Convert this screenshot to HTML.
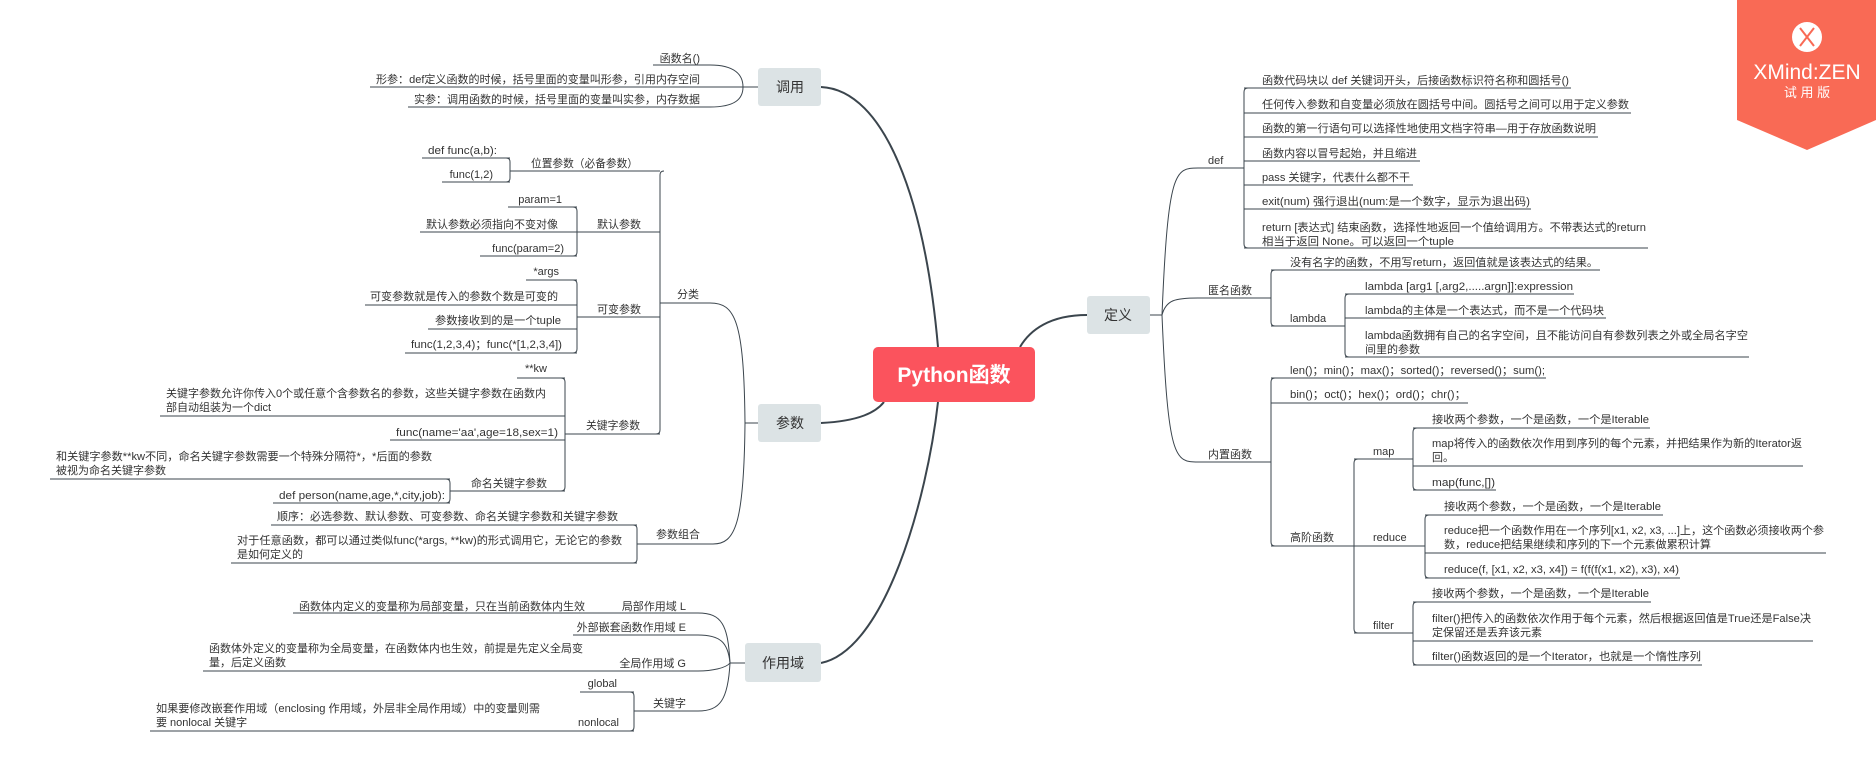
<!DOCTYPE html>
<html><head><meta charset="utf-8"><style>
html,body{margin:0;padding:0;background:#fff;}
svg{display:block;}
text{font-family:"Liberation Sans","Noto Sans CJK SC",sans-serif;fill:#333;font-size:11px;}
.m{font-size:14px;fill:#333;}
</style></head><body>
<svg width="1876" height="782" viewBox="0 0 1876 782" xmlns="http://www.w3.org/2000/svg">
<g fill="none" stroke="#3b454d" stroke-width="2">
<path d="M821,87 C885,90 925,200 938,347"/>
<path d="M821,423 C860,421 876,412 884,402"/>
<path d="M821,663 C885,650 927,500 938,402"/>
<path d="M1087,315 C1050,315 1030,330 1020,347"/>
</g>
<rect x="873" y="347" width="162" height="55" rx="5" fill="#fb535d"/>
<text x="954" y="382" text-anchor="middle" style="font-size:21px;font-weight:bold;fill:#fff">Python函数</text>
<g fill="#dce3e5">
<rect x="1087" y="296" width="63" height="38" rx="3"/>
<rect x="758" y="68" width="63" height="38" rx="3"/>
<rect x="758" y="404" width="63" height="38" rx="3"/>
<rect x="745" y="643" width="76" height="39" rx="3"/>
</g>
<text class="m" x="1118" y="320" text-anchor="middle">定义</text>
<text class="m" x="790" y="92" text-anchor="middle">调用</text>
<text class="m" x="790" y="428" text-anchor="middle">参数</text>
<text class="m" x="783" y="668" text-anchor="middle">作用域</text>

<g fill="none" stroke="#3b454d" stroke-width="1">
<!-- 定义 subtree -->
<path d="M1150,315 L1162,315"/>
<path d="M1162,315 C1168,170 1175,168 1198,168 L1244,168"/>
<path d="M1162,315 C1166,300 1175,298 1198,298 L1271,298"/>
<path d="M1162,315 C1168,460 1175,462 1198,462 L1271,462"/>
<path d="M1248,88 Q1244,88 1244,92 L1244,244 Q1244,248 1248,248"/>
<path d="M1244,88 L1571,88 M1244,113 L1631,113 M1244,137 L1598,137 M1244,161 L1420,161 M1244,185 L1413,185 M1244,209 L1531,209 M1244,248 L1648,248"/>
<path d="M1275,270 Q1271,270 1271,274 L1271,322 Q1271,326 1275,326"/>
<path d="M1271,270 L1600,270 M1271,326 L1345,326"/>
<path d="M1349,294 Q1345,294 1345,298 L1345,353 Q1345,357 1349,357"/>
<path d="M1345,294 L1574,294 M1345,318 L1606,318 M1345,357 L1749,357"/>
<path d="M1275,378 Q1271,378 1271,382 L1271,542 Q1271,546 1275,546"/>
<path d="M1271,378 L1546,378 M1271,403 L1468,403 M1271,546 L1354,546"/>
<path d="M1358,459 Q1354,459 1354,463 L1354,629 Q1354,633 1358,633"/>
<path d="M1354,459 L1413,459 M1354,546 L1425,546 M1354,633 L1413,633"/>
<path d="M1417,428 Q1413,428 1413,432 L1413,486 Q1413,490 1417,490"/>
<path d="M1413,428 L1650,428 M1413,466 L1803,466 M1413,490 L1496,490"/>
<path d="M1429,515 Q1425,515 1425,519 L1425,574 Q1425,578 1429,578"/>
<path d="M1425,515 L1663,515 M1425,553 L1826,553 M1425,578 L1680,578"/>
<path d="M1417,602 Q1413,602 1413,606 L1413,661 Q1413,665 1417,665"/>
<path d="M1413,602 L1651,602 M1413,641 L1813,641 M1413,665 L1702,665"/>
<!-- 调用 -->
<path d="M758,87 L743,87"/>
<path d="M653,65 L710,65 C735,65 743,75 743,87 C743,99 735,107 710,107 L408,107"/>
<path d="M370,87 L743,87"/>
<!-- 参数 -->
<path d="M758,423 L745,423"/>
<path d="M745,423 C744,320 735,303 710,303 L660,303"/>
<path d="M745,423 C744,525 735,544 713,544 L637,544"/>
<path d="M664,171 Q660,171 660,175 L660,430 Q660,434 656,434"/>
<path d="M660,171 L510,171 M660,232 L420,232 M660,317 L577,317 M660,434 L565,434"/>
<path d="M506,158 Q510,158 510,162 L510,178 Q510,182 506,182"/>
<path d="M510,158 L422,158 M510,182 L442,182"/>
<path d="M573,207 Q577,207 577,211 L577,252 Q577,256 573,256"/>
<path d="M577,207 L508,207 M577,256 L480,256"/>
<path d="M573,280 Q577,280 577,284 L577,349 Q577,353 573,353"/>
<path d="M577,280 L526,280 M577,305 L365,305 M577,329 L428,329 M577,353 L405,353"/>
<path d="M561,378 Q565,378 565,382 L565,487 Q565,491 561,491"/>
<path d="M565,378 L517,378 M565,416 L160,416 M565,440 L390,440 M565,491 L450,491"/>
<path d="M446,479 Q450,479 450,483 L450,499 Q450,503 446,503"/>
<path d="M450,479 L50,479 M450,503 L273,503"/>
<path d="M633,525 Q637,525 637,529 L637,559 Q637,563 633,563"/>
<path d="M637,525 L271,525 M637,563 L231,563"/>
<!-- 作用域 -->
<path d="M745,663 L730,663"/>
<path d="M730,663 C728,625 722,613 698,613 L293,613"/>
<path d="M730,663 C728,642 720,635 698,635 L573,635"/>
<path d="M730,663 C726,668 712,671 698,671 L203,671"/>
<path d="M730,663 C728,700 720,711 698,711 L634,711"/>
<path d="M630,692 Q634,692 634,696 L634,727 Q634,731 630,731"/>
<path d="M634,692 L580,692 M634,731 L150,731"/>
</g>

<!-- 定义 texts -->
<text x="1208" y="164">def</text>
<text x="1262" y="84" textLength="307" lengthAdjust="spacingAndGlyphs">函数代码块以 def 关键词开头，后接函数标识符名称和圆括号()</text>
<text x="1262" y="108" textLength="367" lengthAdjust="spacingAndGlyphs">任何传入参数和自变量必须放在圆括号中间。圆括号之间可以用于定义参数</text>
<text x="1262" y="132" textLength="334" lengthAdjust="spacingAndGlyphs">函数的第一行语句可以选择性地使用文档字符串—用于存放函数说明</text>
<text x="1262" y="157" textLength="155" lengthAdjust="spacingAndGlyphs">函数内容以冒号起始，并且缩进</text>
<text x="1262" y="181" textLength="148" lengthAdjust="spacingAndGlyphs">pass 关键字，代表什么都不干</text>
<text x="1262" y="205" textLength="268" lengthAdjust="spacingAndGlyphs">exit(num)   强行退出(num:是一个数字，显示为退出码)</text>
<text x="1262" y="231" textLength="384" lengthAdjust="spacingAndGlyphs">return [表达式] 结束函数，选择性地返回一个值给调用方。不带表达式的return</text>
<text x="1262" y="245" textLength="192" lengthAdjust="spacingAndGlyphs">相当于返回 None。可以返回一个tuple</text>
<text x="1208" y="294">匿名函数</text>
<text x="1290" y="266" textLength="308" lengthAdjust="spacingAndGlyphs">没有名字的函数，不用写return，返回值就是该表达式的结果。</text>
<text x="1290" y="322">lambda</text>
<text x="1365" y="290" textLength="208" lengthAdjust="spacingAndGlyphs">lambda [arg1 [,arg2,.....argn]]:expression</text>
<text x="1365" y="314" textLength="239" lengthAdjust="spacingAndGlyphs">lambda的主体是一个表达式，而不是一个代码块</text>
<text x="1365" y="339" textLength="383" lengthAdjust="spacingAndGlyphs">lambda函数拥有自己的名字空间，且不能访问自有参数列表之外或全局名字空</text>
<text x="1365" y="353">间里的参数</text>
<text x="1208" y="458">内置函数</text>
<text x="1290" y="374" textLength="255" lengthAdjust="spacingAndGlyphs">len()；min()；max()；sorted()；reversed()；sum();</text>
<text x="1290" y="398" textLength="176" lengthAdjust="spacingAndGlyphs">bin()；oct()；hex()；ord()；chr()；</text>
<text x="1290" y="541">高阶函数</text>
<text x="1373" y="455">map</text>
<text x="1373" y="541">reduce</text>
<text x="1373" y="629">filter</text>
<text x="1432" y="423" textLength="217" lengthAdjust="spacingAndGlyphs">接收两个参数，一个是函数，一个是Iterable</text>
<text x="1432" y="447" textLength="370" lengthAdjust="spacingAndGlyphs">map将传入的函数依次作用到序列的每个元素，并把结果作为新的Iterator返</text>
<text x="1432" y="461">回。</text>
<text x="1432" y="486" textLength="63" lengthAdjust="spacingAndGlyphs">map(func,[])</text>
<text x="1444" y="510" textLength="217" lengthAdjust="spacingAndGlyphs">接收两个参数，一个是函数，一个是Iterable</text>
<text x="1444" y="534" textLength="380" lengthAdjust="spacingAndGlyphs">reduce把一个函数作用在一个序列[x1, x2, x3, ...]上，这个函数必须接收两个参</text>
<text x="1444" y="548" textLength="267" lengthAdjust="spacingAndGlyphs">数，reduce把结果继续和序列的下一个元素做累积计算</text>
<text x="1444" y="573" textLength="235" lengthAdjust="spacingAndGlyphs">reduce(f, [x1, x2, x3, x4]) = f(f(f(x1, x2), x3), x4)</text>
<text x="1432" y="597" textLength="217" lengthAdjust="spacingAndGlyphs">接收两个参数，一个是函数，一个是Iterable</text>
<text x="1432" y="622" textLength="379" lengthAdjust="spacingAndGlyphs">filter()把传入的函数依次作用于每个元素，然后根据返回值是True还是False决</text>
<text x="1432" y="636">定保留还是丢弃该元素</text>
<text x="1432" y="660" textLength="269" lengthAdjust="spacingAndGlyphs">filter()函数返回的是一个Iterator，也就是一个惰性序列</text>

<!-- 调用 texts -->
<text x="700" y="62" text-anchor="end">函数名()</text>
<text x="700" y="83" text-anchor="end" textLength="324" lengthAdjust="spacingAndGlyphs">形参：def定义函数的时候，括号里面的变量叫形参，引用内存空间</text>
<text x="700" y="103" text-anchor="end" textLength="286" lengthAdjust="spacingAndGlyphs">实参：调用函数的时候，括号里面的变量叫实参，内存数据</text>
<!-- 参数 texts -->
<text x="677" y="298">分类</text>
<text x="531" y="167" textLength="107" lengthAdjust="spacingAndGlyphs">位置参数（必备参数）</text>
<text x="497" y="154" text-anchor="end" textLength="69" lengthAdjust="spacingAndGlyphs">def func(a,b):</text>
<text x="493" y="178" text-anchor="end">func(1,2)</text>
<text x="597" y="228">默认参数</text>
<text x="562" y="203" text-anchor="end">param=1</text>
<text x="558" y="228" text-anchor="end" textLength="132" lengthAdjust="spacingAndGlyphs">默认参数必须指向不变对像</text>
<text x="564" y="252" text-anchor="end">func(param=2)</text>
<text x="597" y="313">可变参数</text>
<text x="559" y="275" text-anchor="end">*args</text>
<text x="558" y="300" text-anchor="end" textLength="188" lengthAdjust="spacingAndGlyphs">可变参数就是传入的参数个数是可变的</text>
<text x="561" y="324" text-anchor="end" textLength="126" lengthAdjust="spacingAndGlyphs">参数接收到的是一个tuple</text>
<text x="562" y="348" text-anchor="end" textLength="151" lengthAdjust="spacingAndGlyphs">func(1,2,3,4)；func(*[1,2,3,4])</text>
<text x="586" y="429" textLength="54" lengthAdjust="spacingAndGlyphs">关键字参数</text>
<text x="547" y="372" text-anchor="end">**kw</text>
<text x="166" y="397" textLength="380" lengthAdjust="spacingAndGlyphs">关键字参数允许你传入0个或任意个含参数名的参数，这些关键字参数在函数内</text>
<text x="166" y="411">部自动组装为一个dict</text>
<text x="558" y="436" text-anchor="end" textLength="162" lengthAdjust="spacingAndGlyphs">func(name='aa',age=18,sex=1)</text>
<text x="547" y="487" text-anchor="end" textLength="76" lengthAdjust="spacingAndGlyphs">命名关键字参数</text>
<text x="56" y="460" textLength="376" lengthAdjust="spacingAndGlyphs">和关键字参数**kw不同，命名关键字参数需要一个特殊分隔符*，*后面的参数</text>
<text x="56" y="474">被视为命名关键字参数</text>
<text x="445" y="499" text-anchor="end" textLength="166" lengthAdjust="spacingAndGlyphs">def person(name,age,*,city,job):</text>
<text x="700" y="538" text-anchor="end">参数组合</text>
<text x="618" y="520" text-anchor="end" textLength="341" lengthAdjust="spacingAndGlyphs">顺序：必选参数、默认参数、可变参数、命名关键字参数和关键字参数</text>
<text x="237" y="544" textLength="385" lengthAdjust="spacingAndGlyphs">对于任意函数，都可以通过类似func(*args, **kw)的形式调用它，无论它的参数</text>
<text x="237" y="558">是如何定义的</text>
<!-- 作用域 texts -->
<text x="686" y="610" text-anchor="end">局部作用域 L</text>
<text x="585" y="610" text-anchor="end" textLength="286" lengthAdjust="spacingAndGlyphs">函数体内定义的变量称为局部变量，只在当前函数体内生效</text>
<text x="686" y="631" text-anchor="end">外部嵌套函数作用域 E</text>
<text x="686" y="667" text-anchor="end">全局作用域 G</text>
<text x="209" y="652" textLength="374" lengthAdjust="spacingAndGlyphs">函数体外定义的变量称为全局变量，在函数体内也生效，前提是先定义全局变</text>
<text x="209" y="666">量，后定义函数</text>
<text x="686" y="707" text-anchor="end">关键字</text>
<text x="617" y="687" text-anchor="end">global</text>
<text x="619" y="726" text-anchor="end">nonlocal</text>
<text x="156" y="712" textLength="384" lengthAdjust="spacingAndGlyphs">如果要修改嵌套作用域（enclosing 作用域，外层非全局作用域）中的变量则需</text>
<text x="156" y="726">要 nonlocal 关键字</text>

<!-- XMind badge -->
<path d="M1737,0 L1876,0 L1876,120 L1807,150 L1737,120 Z" fill="#f96a55"/>
<circle cx="1807" cy="37" r="15" fill="#fff"/>
<path d="M1800,28 L1807,37 L1800,46 M1814,28 L1807,37 L1814,46" stroke="#f96a55" stroke-width="2" fill="none"/>
<text x="1807" y="79" text-anchor="middle" style="font-size:21px;fill:#fff">XMind:ZEN</text>
<text x="1807" y="97" text-anchor="middle" style="font-size:13px;fill:#fff">试 用 版</text>
</svg>
</body></html>
